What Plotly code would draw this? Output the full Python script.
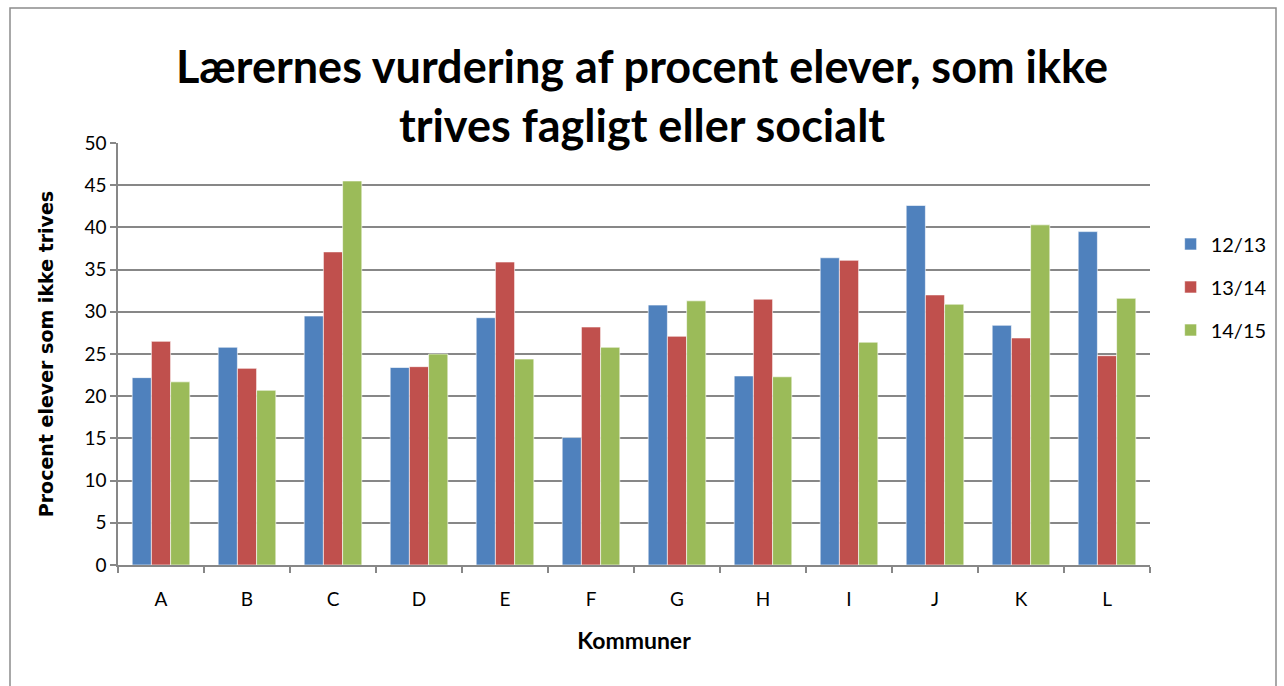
import plotly.graph_objects as go

kommuner = ["A", "B", "C", "D", "E", "F", "G", "H", "I", "J", "K", "L"]
aar_12_13 = [22.2, 25.8, 29.5, 23.4, 29.3, 15.1, 30.8, 22.4, 36.4, 42.6, 28.4, 39.5]
aar_13_14 = [26.5, 23.3, 37.1, 23.5, 35.9, 28.2, 27.1, 31.5, 36.1, 32.0, 26.9, 24.8]
aar_14_15 = [21.7, 20.7, 45.5, 25.0, 24.4, 25.8, 31.3, 22.3, 26.4, 30.9, 40.3, 31.6]

series = [
    ("12/13", aar_12_13, "#4F81BD"),
    ("13/14", aar_13_14, "#C0504D"),
    ("14/15", aar_14_15, "#9BBB59"),
]

W, H = 1284, 686
L, R, T, B = 118, 134, 143, 121
FONT = "Lato"

fig = go.Figure()
for name, vals, color in series:
    fig.add_trace(go.Bar(
        x=kommuner, y=vals, name=name, legendgroup=name,
        marker=dict(color=color, line=dict(color="rgba(255,255,255,0.6)", width=1)),
    ))

# outer chart frame (pixel -> paper)
pw, ph = W - L - R, H - T - B
fig.add_shape(
    type="rect", xref="paper", yref="paper",
    x0=(10 - L) / pw, x1=(1276 - L) / pw,
    y0=(H - B - 730) / ph, y1=(H - B - 8) / ph,
    line=dict(color="#8c8c8c", width=1.5), fillcolor="rgba(0,0,0,0)", layer="below",
)

fig.update_layout(
    width=W, height=H,
    margin=dict(l=L, r=R, t=T, b=B),
    paper_bgcolor="white", plot_bgcolor="white",
    font=dict(family=FONT, color="black", size=19),
    title=dict(
        text="<b>Lærernes vurdering af procent elever, som ikke<br>trives fagligt eller socialt</b>",
        x=0.5, xanchor="center", xref="container",
        y=1 - 83 / H, yanchor="middle", yref="container",
        font=dict(family=FONT, size=45, color="black"),
    ),
    barmode="group", bargap=0.33, bargroupgap=0,
    legend=dict(
        x=1.02, xanchor="left", y=1 - (287 - T) / ph, yanchor="middle",
        font=dict(family=FONT, size=20), itemwidth=30, tracegroupgap=14,
        traceorder="grouped",
    ),
    showlegend=True,
)

fig.update_yaxes(
    range=[0, 50], dtick=5, showgrid=True, gridcolor="#878787", gridwidth=1.5,
    showline=True, linecolor="#878787", linewidth=1.5,
    ticks="outside", ticklen=6, tickcolor="#878787", tickwidth=1.5,
    tickfont=dict(family=FONT, size=19),
    title=dict(text="<b>Procent elever som ikke trives</b>",
               font=dict(family="DejaVu Sans", size=19), standoff=26),
    zeroline=False,
)
fig.update_xaxes(
    showline=True, linecolor="#878787", linewidth=1.5,
    ticks="outside", ticklen=6, tickcolor="#878787", tickwidth=1.5,
    tickson="boundaries", tickfont=dict(family=FONT, size=19), ticklabelstandoff=16,
    title=dict(text="<b>Kommuner</b>", font=dict(family=FONT, size=23), standoff=24),
)

fig.write_html(
    "out.html",
    config={"displayModeBar": False},
    post_script="document.body.style.margin='0px';",
)
